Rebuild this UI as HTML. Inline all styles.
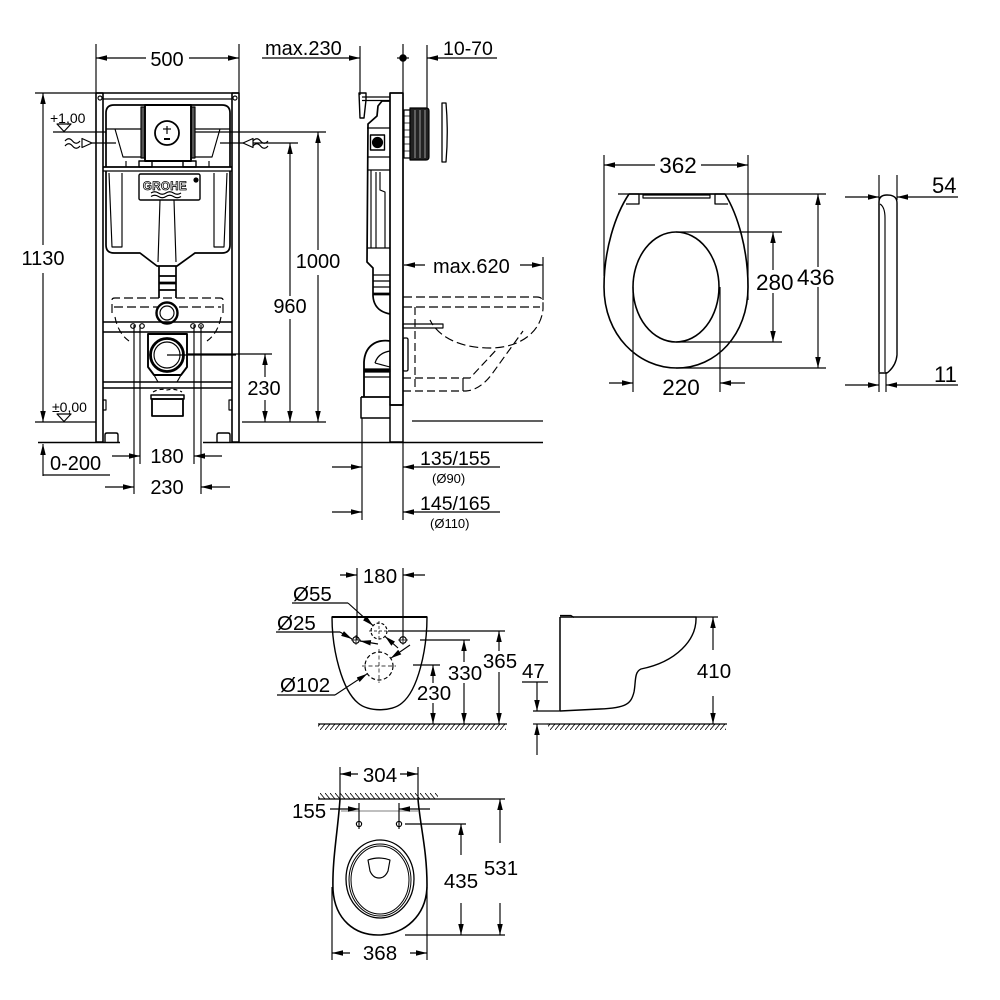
<!DOCTYPE html>
<html><head><meta charset="utf-8"><style>
html,body{margin:0;padding:0;background:#fff;}
svg{display:block;}
text{font-family:"Liberation Sans",Arial,sans-serif;fill:#000;stroke:none;}
</style></head><body>
<svg width="1000" height="1000" viewBox="0 0 1000 1000" xmlns="http://www.w3.org/2000/svg">
<defs>
<marker id="a" viewBox="0 0 10 6" refX="10" refY="3" markerWidth="11" markerHeight="6.6" markerUnits="userSpaceOnUse" orient="auto"><path d="M0,0.5 L10,3 L0,5.5z" fill="#000" stroke="none"/></marker>
<pattern id="hf" x="0" y="724" width="5" height="6" patternUnits="userSpaceOnUse"><path d="M0,6 L5,0" stroke="#000" stroke-width="0.8"/></pattern>
<pattern id="hw" x="0" y="793" width="5" height="6" patternUnits="userSpaceOnUse"><path d="M0,0 L5,6" stroke="#000" stroke-width="0.8"/></pattern>
</defs>
<g fill="none" stroke="#000" stroke-width="1.15" stroke-linejoin="round">

<!-- ========== FRONT FRAME VIEW ========== -->
<line x1="96" y1="44" x2="96" y2="93"/>
<line x1="239" y1="44" x2="239" y2="93"/>
<line x1="146" y1="58" x2="96" y2="58" marker-end="url(#a)"/>
<line x1="189" y1="58" x2="239" y2="58" marker-end="url(#a)"/>
<text x="167" y="66" font-size="20" text-anchor="middle">500</text>

<text x="265" y="55" font-size="20">max.230</text>
<line x1="262" y1="58" x2="360" y2="58" marker-end="url(#a)"/>
<line x1="360" y1="46" x2="360" y2="95"/>
<line x1="403" y1="44" x2="403" y2="93"/>
<line x1="397" y1="58" x2="409" y2="58"/>
<circle cx="403" cy="58" r="3.2" fill="#000"/>
<line x1="427" y1="45" x2="427" y2="108"/>
<line x1="497" y1="58" x2="427" y2="58" marker-end="url(#a)"/>
<text x="443" y="55" font-size="19.5">10-70</text>

<line x1="35" y1="93" x2="96" y2="93"/>
<line x1="35" y1="422" x2="96" y2="422"/>
<line x1="43" y1="245" x2="43" y2="93" marker-end="url(#a)"/>
<line x1="43" y1="273" x2="43" y2="422" marker-end="url(#a)"/>
<text x="43" y="265" font-size="20" text-anchor="middle">1130</text>

<text x="50" y="123" font-size="14">+1,00</text>
<path d="M57,124 L71,124 L64,131.5 Z"/>
<line x1="53" y1="132" x2="106" y2="132"/>
<path d="M65,141 c2.5,-3 5,-3 7.5,0 c2.5,3 5,3 7.5,0"/>
<path d="M65,146 c2.5,-3 5,-3 7.5,0 c2.5,3 5,3 7.5,0"/>
<path d="M82,138.5 L92,143 L82,147.5 Z" fill="#fff"/>
<line x1="92" y1="143" x2="116" y2="143"/>
<line x1="220" y1="143" x2="298" y2="143"/>
<path d="M253,138.5 L243,143 L253,147.5 Z" fill="#fff"/>
<path d="M253,141 c2.5,-3 5,-3 7.5,0 c2.5,3 5,3 7.5,0"/>
<path d="M253,146 c2.5,-3 5,-3 7.5,0 c2.5,3 5,3 7.5,0"/>

<text x="52" y="412" font-size="14">±0,00</text>
<path d="M57,414 L71,414 L64,421.5 Z"/>

<line x1="190" y1="132" x2="326" y2="132"/>
<line x1="318" y1="250" x2="318" y2="132" marker-end="url(#a)"/>
<line x1="318" y1="275" x2="318" y2="422" marker-end="url(#a)"/>
<text x="318" y="268" font-size="20" text-anchor="middle">1000</text>
<line x1="290" y1="296" x2="290" y2="143" marker-end="url(#a)"/>
<line x1="290" y1="319" x2="290" y2="422" marker-end="url(#a)"/>
<text x="290" y="313" font-size="20" text-anchor="middle">960</text>
<line x1="167" y1="354" x2="272" y2="354"/>
<line x1="265" y1="377" x2="265" y2="354" marker-end="url(#a)"/>
<line x1="265" y1="400" x2="265" y2="422" marker-end="url(#a)"/>
<text x="264" y="395" font-size="20" text-anchor="middle">230</text>
<line x1="242" y1="422" x2="326" y2="422"/>

<line x1="38" y1="442.5" x2="120" y2="442.5" stroke-width="1.5"/>
<line x1="203" y1="442.5" x2="543" y2="442.5" stroke-width="1.5"/>

<line x1="43" y1="476" x2="43" y2="444" marker-end="url(#a)"/>
<text x="50" y="470" font-size="20">0-200</text>
<line x1="43" y1="475" x2="110" y2="475"/>

<line x1="134" y1="325" x2="134" y2="494"/>
<line x1="140" y1="325" x2="140" y2="464"/>
<line x1="194" y1="325" x2="194" y2="464"/>
<line x1="201" y1="325" x2="201" y2="494"/>
<line x1="112" y1="456" x2="140" y2="456" marker-end="url(#a)"/>
<line x1="222" y1="456" x2="194" y2="456" marker-end="url(#a)"/>
<text x="167" y="463" font-size="20" text-anchor="middle">180</text>
<line x1="105" y1="487" x2="134" y2="487" marker-end="url(#a)"/>
<line x1="230" y1="487" x2="201" y2="487" marker-end="url(#a)"/>
<text x="167" y="494" font-size="20" text-anchor="middle">230</text>

<rect x="96" y="93" width="7" height="349" stroke-width="1.6"/>
<rect x="232" y="93" width="7" height="349" stroke-width="1.6"/>
<line x1="96" y1="93" x2="239" y2="93" stroke-width="1.6"/>
<line x1="103" y1="99" x2="232" y2="99"/>
<circle cx="100" cy="98" r="2"/><circle cx="235" cy="98" r="2"/>
<rect x="103" y="400" width="3" height="10"/><rect x="229" y="400" width="3" height="10"/>
<path d="M105,442 L105,435 Q105,433 107,433 L116,433 Q118,433 118,435 L118,442" stroke-width="1.4"/>
<path d="M217,442 L217,435 Q217,433 219,433 L228,433 Q230,433 230,435 L230,442" stroke-width="1.4"/>

<path d="M106,167 L106,113 Q106,105 114,105 L222,105 Q230,105 230,113 L230,167" stroke-width="1.7"/>
<line x1="103" y1="167" x2="232" y2="167" stroke-width="1.7"/>
<line x1="103" y1="171" x2="232" y2="171"/>
<path d="M106,129 L141,129 M115,129 L123,157 L141,157"/>
<path d="M195,129 L230,129 M220,129 L212,157 L195,157"/>
<line x1="126" y1="161" x2="126" y2="167"/><line x1="209" y1="161" x2="209" y2="167"/>
<rect x="141" y="107" width="4" height="51" fill="#555"/>
<rect x="191" y="107" width="4" height="51" fill="#555"/>
<rect x="145" y="105" width="46" height="56" stroke-width="1.9" fill="#fff"/>
<circle cx="167" cy="133" r="12" stroke-width="1.8"/>
<line x1="167" y1="126" x2="167" y2="134"/>
<line x1="163" y1="129" x2="171" y2="129"/>
<line x1="164" y1="139" x2="170" y2="139" stroke-width="2"/>
<rect x="139" y="161" width="13" height="6" stroke-width="1.4"/>
<rect x="183" y="161" width="13" height="6" stroke-width="1.4"/>
<path d="M106,171 L106,245 Q106,253 114,253 L140,253 L157,266 L177,266 L195,253 L222,253 Q230,253 230,245 L230,171" stroke-width="1.7"/>
<path d="M109,173 L112,247 L122,247 L122,173"/>
<path d="M227,173 L224,247 L214,247 L214,173"/>
<rect x="139" y="174" width="61" height="26" rx="1.5" stroke-width="1.4"/>
<text x="165" y="190" font-size="11.5" font-weight="bold" text-anchor="middle" letter-spacing="0.4" style="fill:#fff;stroke:#000;stroke-width:0.8">GROHE</text>
<circle cx="196" cy="180" r="2" fill="#000"/>
<path d="M151,193 q3.75,-2.5 7.5,0 t7.5,0 t7.5,0 t7.5,0"/>
<path d="M151,196.5 q3.75,-2.5 7.5,0 t7.5,0 t7.5,0 t7.5,0"/>
<path d="M160,200 L158,262 M174,200 L176,262"/>
<path d="M159,266 L159,298 M176,266 L176,298" stroke-width="1.7"/>
<line x1="159" y1="276" x2="176" y2="276" stroke-width="1.7"/>
<line x1="159" y1="283" x2="176" y2="283" stroke-width="2.7"/>
<line x1="159" y1="290" x2="176" y2="290" stroke-width="1.7"/>
<path d="M112,313 L112,300 Q112,298 115,298 L220,298 Q223,298 223,300 L223,313" stroke-dasharray="9,4"/>
<line x1="114" y1="307" x2="221" y2="307" stroke-dasharray="9,4"/>
<path d="M115,317 Q118,333 129,341" stroke-dasharray="7,4"/>
<path d="M221,317 Q218,333 207,341" stroke-dasharray="7,4"/>
<circle cx="167" cy="313" r="10.5" stroke-width="2.4" fill="#fff"/>
<circle cx="167" cy="313" r="7"/>
<line x1="103" y1="322" x2="232" y2="322" stroke-width="1.4"/>
<line x1="103" y1="332" x2="232" y2="332" stroke-width="1.4"/>
<circle cx="133" cy="326" r="2.3"/><circle cx="142" cy="326" r="2.3"/>
<circle cx="193" cy="326" r="2.3"/><circle cx="201" cy="326" r="2.3"/>
<path d="M148,334 L187,334 L187,367 L181,375 L154,375 L148,367 Z" stroke-width="1.9" fill="#fff"/>
<circle cx="167" cy="355" r="16.5" stroke-width="2.8"/>
<circle cx="167" cy="355" r="13"/>
<line x1="167" y1="355" x2="236" y2="355"/>
<path d="M154,375 L158,382 M181,375 L177,382"/>
<line x1="103" y1="382" x2="232" y2="382" stroke-width="1.4"/>
<line x1="103" y1="388" x2="232" y2="388" stroke-width="1.4"/>
<path d="M153,392 Q160,388 167,390 Q175,388 182,392" stroke-dasharray="4,3"/>
<rect x="151" y="395" width="33" height="4" stroke-width="1.5"/>
<rect x="152" y="399" width="31" height="17" stroke-width="1.8"/>

<!-- ========== SIDE FRAME VIEW ========== -->
<rect x="390" y="93" width="13" height="312" stroke-width="1.7" fill="#fff"/>
<rect x="390" y="405" width="13" height="37" stroke-width="1.5"/>
<line x1="362" y1="97" x2="390" y2="97"/>
<line x1="362" y1="100.5" x2="390" y2="100.5"/>
<path d="M359,93 L366,93 L366,100 L364,118 L360,118 Z" stroke-width="1.4"/>
<path d="M390,101 L382,101 L378,106 L377,116 L368,124 L367,262 L373,268 L373,296 Q374,311 390,314" stroke-width="1.7"/>
<line x1="367" y1="128" x2="390" y2="128"/>
<line x1="367" y1="157" x2="390" y2="157"/>
<rect x="370.5" y="135" width="14" height="15" stroke-width="1.4"/>
<circle cx="377.5" cy="142.5" r="5" fill="#000"/>
<line x1="367" y1="170" x2="390" y2="170"/>
<path d="M371,170 L371,248 M376,172 L376,248 M380,172 L380,190 L385,192 L385,248 M367,248 L390,248"/>
<line x1="373" y1="275" x2="390" y2="275"/>
<line x1="373" y1="281" x2="390" y2="281"/>
<line x1="373" y1="287" x2="390" y2="287"/>
<line x1="373" y1="294" x2="390" y2="294" stroke-width="2.7"/>
<rect x="404" y="110" width="6" height="48" fill="#fff"/>
<path d="M404,116 h6 M404,123 h6 M404,130 h6 M404,137 h6 M404,144 h6 M404,151 h6" stroke-width="0.8"/>
<path d="M410,108 L426,108 Q429,108 429,111 L429,157 Q429,160 426,160 L410,160 Z" fill="#222"/>
<path d="M415,110 V158 M420,110 V158 M425,110 V158" stroke="#bbb" stroke-width="0.8"/>
<path d="M442,103 L446,103 Q448.5,132 446,162 L442,162 Z" stroke-width="1.3"/>
<rect x="403" y="324" width="40" height="4"/>
<rect x="403" y="338" width="5" height="33" rx="1.5" stroke-width="1.3"/>
<path d="M390,341 C376,339 365,346 364,362 L364,397" stroke-width="1.8"/>
<rect x="364" y="369" width="26" height="3" fill="#000"/>
<line x1="364" y1="377" x2="390" y2="377"/>
<path d="M375,363 Q378,353 390,351" stroke-width="1.3"/>
<path d="M375,363 L390,367"/>
<line x1="361" y1="397" x2="390" y2="397" stroke-width="1.8"/>
<path d="M361,397 L361,418 L390,418" stroke-width="1.5"/>
<line x1="362" y1="418" x2="362" y2="520"/>
<line x1="403" y1="442" x2="403" y2="520"/>
<path d="M403,297 L537,297 Q543,297 543,303 Q543,307 543,309 C541,332 520,348 490,348 C465,348 440,340 430,320" stroke-dasharray="9,4"/>
<line x1="403" y1="307" x2="540" y2="307" stroke-dasharray="9,4"/>
<path d="M403,391 L466,391 Q480,390 492,374 L523,331" stroke-dasharray="8,4"/>
<path d="M403,378 L470,378 L498,348" stroke-dasharray="8,4"/>
<line x1="415" y1="307" x2="415" y2="391" stroke-dasharray="8,4"/>
<line x1="463" y1="378" x2="463" y2="391"/>
<line x1="412" y1="421" x2="543" y2="421"/>
<line x1="543" y1="257" x2="543" y2="300"/>
<line x1="425" y1="265" x2="404" y2="265" marker-end="url(#a)"/>
<line x1="520" y1="265" x2="543" y2="265" marker-end="url(#a)"/>
<text x="433" y="273" font-size="20">max.620</text>
<line x1="332" y1="467" x2="362" y2="467" marker-end="url(#a)"/>
<line x1="500" y1="467" x2="403" y2="467" marker-end="url(#a)"/>
<text x="420" y="465" font-size="19.5">135/155</text>
<text x="432" y="483" font-size="13">(Ø90)</text>
<line x1="332" y1="512" x2="362" y2="512" marker-end="url(#a)"/>
<line x1="500" y1="512" x2="403" y2="512" marker-end="url(#a)"/>
<text x="420" y="510" font-size="19.5">145/165</text>
<text x="430" y="528" font-size="13">(Ø110)</text>

<!-- ========== SEAT ========== -->
<line x1="604" y1="155" x2="604" y2="276"/>
<line x1="748" y1="155" x2="748" y2="300"/>
<line x1="655" y1="165" x2="604" y2="165" marker-end="url(#a)"/>
<line x1="701" y1="165" x2="748" y2="165" marker-end="url(#a)"/>
<text x="678" y="173" font-size="22.5" text-anchor="middle">362</text>
<path d="M629,194 C615,215 604,250 604,287 C604,335 638,368 677,368 C716,368 748,335 748,287 C748,250 738,215 725,194 Z" stroke-width="1.6"/>
<line x1="618" y1="194" x2="826" y2="194"/>
<path d="M629,194 L639,194 L639,204 L626,204" stroke-width="1.3"/>
<path d="M725,194 L715,194 L715,204 L728,204" stroke-width="1.3"/>
<rect x="643" y="195" width="67" height="3" stroke-width="1.2"/>
<ellipse cx="676" cy="287" rx="43" ry="55" stroke-width="1.6"/>
<line x1="676" y1="232" x2="782" y2="232"/>
<line x1="676" y1="342" x2="782" y2="342"/>
<line x1="773" y1="270" x2="773" y2="232" marker-end="url(#a)"/>
<line x1="773" y1="293" x2="773" y2="342" marker-end="url(#a)"/>
<text x="756" y="290" font-size="22.5">280</text>
<line x1="676" y1="368" x2="826" y2="368"/>
<line x1="818" y1="267" x2="818" y2="194" marker-end="url(#a)"/>
<line x1="818" y1="287" x2="818" y2="368" marker-end="url(#a)"/>
<text x="797" y="285" font-size="22.5">436</text>
<line x1="633" y1="287" x2="633" y2="392"/>
<line x1="720" y1="287" x2="720" y2="392"/>
<line x1="609" y1="383" x2="633" y2="383" marker-end="url(#a)"/>
<line x1="745" y1="383" x2="720" y2="383" marker-end="url(#a)"/>
<text x="681" y="395" font-size="22.5" text-anchor="middle">220</text>
<line x1="879" y1="175" x2="879" y2="392"/>
<line x1="897" y1="175" x2="897" y2="200"/>
<line x1="886" y1="372" x2="886" y2="392"/>
<path d="M879,372 L879,202 Q879,195 887,195 Q897,195 897,203 L897,355 Q896,366 887,373 L879,373" stroke-width="1.4"/>
<path d="M880,204 Q885,207 885,218 L885,372"/>
<line x1="845" y1="197" x2="879" y2="197" marker-end="url(#a)"/>
<line x1="958" y1="197" x2="897" y2="197" marker-end="url(#a)"/>
<text x="932" y="193" font-size="22">54</text>
<line x1="845" y1="385" x2="879" y2="385" marker-end="url(#a)"/>
<line x1="958" y1="385" x2="886" y2="385" marker-end="url(#a)"/>
<text x="934" y="382" font-size="22">11</text>

<!-- ========== BOWL FRONT ========== -->
<line x1="357" y1="568" x2="357" y2="640"/>
<line x1="403" y1="568" x2="403" y2="640"/>
<line x1="340" y1="575" x2="357" y2="575" marker-end="url(#a)"/>
<line x1="425" y1="575" x2="403" y2="575" marker-end="url(#a)"/>
<text x="380" y="583" font-size="20.5" text-anchor="middle">180</text>
<path d="M332,617 L427,617 C427,650 418,690 402,703 C392,712 368,712 358,703 C342,690 332,650 332,617 Z" stroke-width="1.4"/>
<line x1="332" y1="617" x2="427" y2="617" stroke-width="2.1"/>
<circle cx="379" cy="631" r="8" stroke-dasharray="3,2"/>
<path d="M369,631 h20 M379,621 v20" stroke-dasharray="3,2" stroke-width="0.7"/>
<circle cx="379" cy="666" r="14" stroke-dasharray="4,2.5"/>
<path d="M362,666 h34 M379,649 v34" stroke-dasharray="4,2.5" stroke-width="0.7"/>
<circle cx="356" cy="640" r="3.3"/><path d="M351,640 h10 M356,635 v10" stroke-width="0.7"/>
<circle cx="403" cy="640" r="3.3"/><path d="M398,640 h10 M403,635 v10" stroke-width="0.7"/>
<text x="293" y="601" font-size="20.5">Ø55</text>
<line x1="292" y1="603" x2="348" y2="603"/>
<line x1="348" y1="603" x2="373" y2="625.6" marker-end="url(#a)"/>
<line x1="398" y1="648" x2="385" y2="636.4" marker-end="url(#a)"/>
<text x="277" y="630" font-size="20.5">Ø25</text>
<line x1="276" y1="632" x2="340" y2="632"/>
<line x1="340" y1="632" x2="352" y2="639" marker-end="url(#a)"/>
<line x1="378" y1="644" x2="360" y2="641" marker-end="url(#a)"/>
<text x="280" y="692" font-size="20.5">Ø102</text>
<line x1="277" y1="695" x2="335" y2="695"/>
<line x1="335" y1="695" x2="367.3" y2="673.7" marker-end="url(#a)"/>
<line x1="410" y1="645" x2="390.7" y2="658.3" marker-end="url(#a)"/>
<line x1="388" y1="631" x2="505" y2="631"/>
<line x1="420" y1="640" x2="470" y2="640"/>
<line x1="413" y1="665" x2="440" y2="665"/>
<line x1="433" y1="683" x2="433" y2="665" marker-end="url(#a)"/>
<line x1="433" y1="703" x2="433" y2="724" marker-end="url(#a)"/>
<text x="434" y="700" font-size="20.5" text-anchor="middle">230</text>
<line x1="464" y1="662" x2="464" y2="640" marker-end="url(#a)"/>
<line x1="464" y1="683" x2="464" y2="724" marker-end="url(#a)"/>
<text x="465" y="680" font-size="20.5" text-anchor="middle">330</text>
<line x1="499" y1="651" x2="499" y2="631" marker-end="url(#a)"/>
<line x1="499" y1="672" x2="499" y2="724" marker-end="url(#a)"/>
<text x="500" y="668" font-size="20.5" text-anchor="middle">365</text>
<line x1="318" y1="724" x2="507" y2="724" stroke-width="1.3"/>
<rect x="318" y="724" width="188" height="6" fill="url(#hf)" stroke="none"/>

<!-- ========== BOWL SIDE ========== -->
<line x1="560" y1="617" x2="560" y2="711" stroke-width="1.5"/>
<path d="M560,615.5 L571,615.5 L574,617.5"/>
<path d="M560,617 L696,617 C697,640 676,662 641,669 C634,672 636,682 634,692 C631,704 626,708 600,709 L560,711" stroke-width="1.4"/>
<line x1="696" y1="617" x2="718" y2="617"/>
<line x1="713" y1="650" x2="713" y2="617" marker-end="url(#a)"/>
<line x1="713" y1="696" x2="713" y2="724" marker-end="url(#a)"/>
<text x="714" y="678" font-size="20.5" text-anchor="middle">410</text>
<line x1="547" y1="724" x2="727" y2="724" stroke-width="1.3"/>
<rect x="548" y="724" width="178" height="6" fill="url(#hf)" stroke="none"/>
<text x="522" y="678" font-size="20.5">47</text>
<line x1="522" y1="682" x2="548" y2="682"/>
<line x1="537" y1="682" x2="537" y2="711" marker-end="url(#a)"/>
<line x1="533" y1="711" x2="560" y2="711"/>
<line x1="533" y1="724" x2="547" y2="724"/>
<line x1="537" y1="755" x2="537" y2="724" marker-end="url(#a)"/>

<!-- ========== BOWL TOP ========== -->
<line x1="340" y1="767" x2="340" y2="800"/>
<line x1="418" y1="767" x2="418" y2="800"/>
<line x1="358" y1="774" x2="340" y2="774" marker-end="url(#a)"/>
<line x1="400" y1="774" x2="418" y2="774" marker-end="url(#a)"/>
<text x="380" y="782" font-size="20.5" text-anchor="middle">304</text>
<line x1="318" y1="799" x2="438" y2="799" stroke-width="1.3"/>
<rect x="318" y="793" width="120" height="6" fill="url(#hw)" stroke="none"/>
<line x1="438" y1="799" x2="505" y2="799"/>
<text x="292" y="818" font-size="20.5">155</text>
<line x1="330" y1="809" x2="359" y2="809" marker-end="url(#a)"/>
<line x1="430" y1="809" x2="399" y2="809" marker-end="url(#a)"/>
<line x1="359" y1="803" x2="359" y2="829"/>
<line x1="399" y1="803" x2="399" y2="829"/>
<path d="M340,799 C338,830 332,860 333,890 C335,920 355,935 378,935 C405,935 427,915 427,885 C427,850 420,825 418,799" stroke-width="1.6"/>
<line x1="341" y1="811" x2="418" y2="811" stroke-width="0.6"/>
<circle cx="359" cy="824" r="2.6"/>
<circle cx="399" cy="824" r="2.6"/>
<ellipse cx="380" cy="879" rx="34" ry="39" stroke-width="1.3"/>
<ellipse cx="380" cy="880" rx="31" ry="36" stroke-width="1"/>
<ellipse cx="380" cy="880" rx="29" ry="34" stroke-width="1"/>
<path d="M368,860 Q379,856 390,860 L388,871 Q385,878 379,878 Q373,878 370,871 Z"/>
<line x1="405" y1="824" x2="466" y2="824"/>
<line x1="461" y1="855" x2="461" y2="824" marker-end="url(#a)"/>
<line x1="461" y1="903" x2="461" y2="935" marker-end="url(#a)"/>
<text x="461" y="888" font-size="20.5" text-anchor="middle">435</text>
<line x1="500" y1="843" x2="500" y2="799" marker-end="url(#a)"/>
<line x1="500" y1="903" x2="500" y2="935" marker-end="url(#a)"/>
<text x="501" y="875" font-size="20.5" text-anchor="middle">531</text>
<line x1="405" y1="935" x2="505" y2="935"/>
<line x1="332" y1="887" x2="332" y2="960"/>
<line x1="427" y1="887" x2="427" y2="960"/>
<line x1="350" y1="953" x2="332" y2="953" marker-end="url(#a)"/>
<line x1="410" y1="953" x2="427" y2="953" marker-end="url(#a)"/>
<text x="380" y="960" font-size="20.5" text-anchor="middle">368</text>

</g>
</svg>
</body></html>
